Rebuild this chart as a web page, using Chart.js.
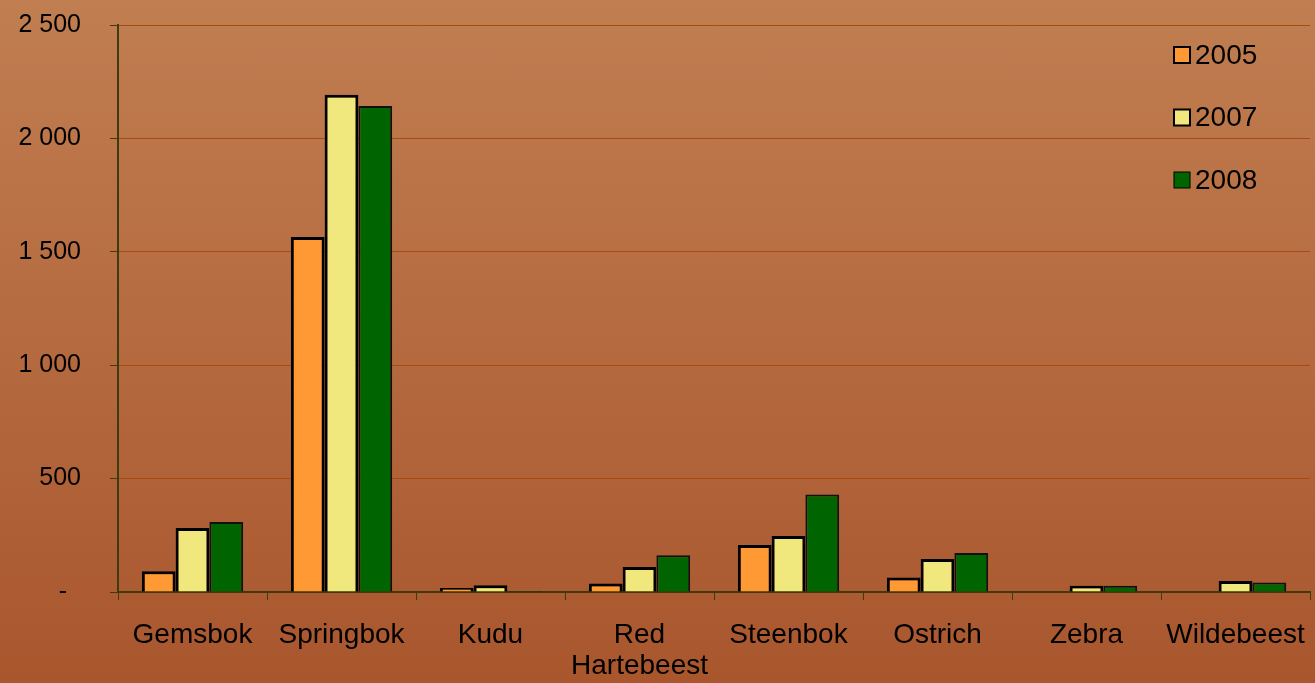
<!DOCTYPE html>
<html>
<head>
<meta charset="utf-8">
<script src="https://cdn.jsdelivr.net/npm/chart.js@4.4.0/dist/chart.umd.min.js"></script>
<style>
  html, body { margin: 0; padding: 0; }
  body {
    width: 1315px; height: 683px; overflow: hidden;
    background: linear-gradient(to bottom, #c07e51 0%, #b56a3f 50%, #a9562d 100%);
  }
  #wrap { position: relative; width: 1315px; height: 683px; }
</style>
</head>
<body>
<div id="wrap"><canvas id="gameChart" width="1315" height="683"></canvas></div>
<script>
// Game counts per species
const species = ['Gemsbok', 'Springbok', 'Kudu', ['Red', 'Hartebeest'], 'Steenbok', 'Ostrich', 'Zebra', 'Wildebeest'];
const counts2005 = [92, 1565, 18, 38, 207, 64, 0, 0];
const counts2007 = [282, 2192, 30, 110, 247, 146, 28, 48];
const counts2008 = [309, 2143, 4, 162, 430, 172, 28, 42];
const yTicks = [0, 500, 1000, 1500, 2000, 2500];

const gridOrange = '#a84a12';
const axisOlive = '#3e3b0c';

// Format like "2 500", zero shown as a dash
function formatTick(v) {
    if (v === 0) return '-  ';
    return String(v).replace(/\B(?=(\d{3})+(?!\d))/g, ' ');
}

// Legend drawn inside the plot area, top right
const insideLegend = {
    id: 'insideLegend',
    afterDraw(chart) {
        const ctx = chart.ctx;
        ctx.save();
        ctx.font = '28px "Liberation Sans", Arial, sans-serif';
        ctx.textBaseline = 'middle';
        chart.data.datasets.forEach((ds, i) => {
            const y = 55 + i * 62.5;
            const x = 1174;
            ctx.fillStyle = ds.backgroundColor;
            ctx.fillRect(x, y - 8, 16, 16);
            ctx.lineWidth = i === 2 ? 1 : 2;
            ctx.strokeStyle = '#000';
            ctx.strokeRect(x, y - 8, 16, 16);
            ctx.fillStyle = '#000';
            ctx.fillText(ds.label, x + 21, y + 1);
        });
        ctx.restore();
    }
};

const ctx = document.getElementById('gameChart').getContext('2d');
new Chart(ctx, {
    type: 'bar',
    data: {
        labels: species,
        datasets: [
            { label: '2005', data: counts2005, backgroundColor: '#ff9933', borderColor: '#000', borderWidth: 3 },
            { label: '2007', data: counts2007, backgroundColor: '#f0e87c', borderColor: '#000', borderWidth: 3 },
            { label: '2008', data: counts2008, backgroundColor: '#006400', borderColor: '#111', borderWidth: 2 }
        ]
    },
    options: {
        responsive: false,
        animation: false,
        devicePixelRatio: 1,
        layout: { padding: { top: 25, right: 5, left: 0, bottom: 0 } },
        datasets: { bar: { categoryPercentage: 0.68, barPercentage: 1.0 } },
        plugins: {
            legend: { display: false },
            tooltip: { enabled: false }
        },
        scales: {
            x: {
                grid: {
                    offset: true,
                    drawOnChartArea: true,
                    color: c => (c.index === species.length ? gridOrange : 'transparent'),
                    tickColor: axisOlive,
                    tickLength: 8
                },
                border: { color: axisOlive, width: 2 },
                ticks: {
                    color: '#000',
                    font: { family: '"Liberation Sans", Arial, sans-serif', size: 28, lineHeight: 1.1 },
                    padding: 20,
                    maxRotation: 0,
                    autoSkip: false
                },
                afterFit: scale => {
                    scale.height = 91;
                    scale.paddingLeft = 0;
                    scale.paddingRight = 0;
                }
            },
            y: {
                min: 0,
                max: 2500,
                afterBuildTicks: scale => { scale.ticks = yTicks.map(v => ({ value: v })); },
                grid: { color: gridOrange, tickColor: axisOlive, tickLength: 8 },
                border: { color: axisOlive, width: 2 },
                ticks: {
                    color: '#000',
                    font: { family: '"Liberation Sans", Arial, sans-serif', size: 25 },
                    padding: 29,
                    callback: v => formatTick(v)
                },
                afterFit: scale => {
                    scale.width = 118;
                    scale.paddingTop = 0;
                    scale.paddingBottom = 0;
                }
            }
        }
    },
    plugins: [insideLegend]
});
</script>
</body>
</html>
